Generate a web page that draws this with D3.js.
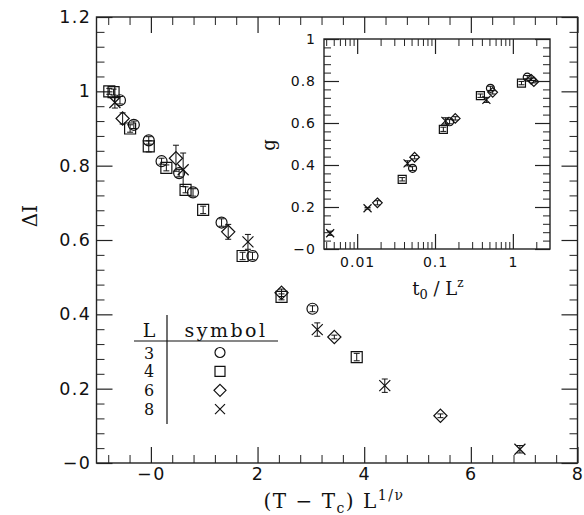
<!DOCTYPE html>
<html>
<head>
<meta charset="utf-8">
<script src="https://cdn.jsdelivr.net/npm/d3@7/dist/d3.min.js"></script>
<style>
  body { margin: 0; background: #fff; }
  text { fill: #111; }
</style>
</head>
<body>
<svg id="chart" width="584" height="515"></svg>
<script>
// lattice sizes and the symbol used for each
const sizes = [3, 4, 6, 8];
const shapes = ["circle", "square", "diamond", "cross"];

// main panel: [ (T - Tc) L^(1/nu), Delta I, error ]
const mainL3 = [[-0.58, 0.976, 0.010], [-0.32, 0.910, 0.010], [-0.04, 0.868, 0.010], [0.20, 0.812, 0.008],
  [0.53, 0.780, 0.010], [0.79, 0.728, 0.010], [1.325, 0.647, 0.010], [1.905, 0.557, 0.010], [3.03, 0.415, 0.008]];
const mainL4 = [[-0.78, 1.000, 0.008], [-0.70, 0.998, 0.008], [-0.39, 0.900, 0.010], [-0.04, 0.852, 0.015],
  [0.29, 0.794, 0.008], [0.65, 0.735, 0.008], [0.98, 0.681, 0.010], [1.72, 0.557, 0.010], [2.45, 0.447, 0.008], [3.86, 0.285, 0.010]];
const mainL6 = [[-0.53, 0.927, 0.015], [0.47, 0.820, 0.035], [1.45, 0.622, 0.020], [2.45, 0.458, 0.010],
  [3.44, 0.339, 0.005], [5.43, 0.127, 0.005]];
const mainL8 = [[-0.675, 0.970, 0.015], [0.605, 0.789, 0.045], [1.82, 0.595, 0.020], [3.12, 0.359, 0.018],
  [4.386, 0.208, 0.018], [6.92, 0.037, 0.010]];

// inset: [ t0 / L^z, g, error ]
const insetL3 = [[0.0515, 0.384, 0.010], [0.154, 0.606, 0.010], [0.515, 0.765, 0.010], [1.53, 0.818, 0.008]];
const insetL4 = [[0.0379, 0.332, 0.008], [0.128, 0.570, 0.010], [0.383, 0.730, 0.008], [1.29, 0.790, 0.008]];
const insetL6 = [[0.0182, 0.220, 0.010], [0.0547, 0.437, 0.008], [0.182, 0.622, 0.008], [0.551, 0.746, 0.008],
  [1.72, 0.808, 0.006], [1.86, 0.797, 0.006]];
const insetL8 = [[0.0045, 0.075, 0.010], [0.0136, 0.194, 0.004], [0.0444, 0.408, 0.012], [0.136, 0.610, 0.015],
  [0.457, 0.710, 0.012]];

// ticks
const mainXMajor = [0, 2, 4, 6, 8];
const mainXLabels = ["\u22120", "2", "4", "6", "8"];
const mainYMajor = [0, 0.2, 0.4, 0.6, 0.8, 1, 1.2];
const mainYLabels = ["\u22120", "0.2", "0.4", "0.6", "0.8", "1", "1.2"];
const insetXMajor = [0.01, 0.1, 1];
const insetXLabels = ["0.01", "0.1", "1"];
const insetYMajor = [0, 0.2, 0.4, 0.6, 0.8, 1];
const insetYLabels = ["\u22120", "0.2", "0.4", "0.6", "0.8", "1"];

const svg = d3.select("#chart");

function symbolPath(shape, r) {
  const p = d3.path();
  if (shape === "circle") {
    p.moveTo(r, 0); p.arc(0, 0, r, 0, 2 * Math.PI);
  } else if (shape === "square") {
    p.rect(-r, -r, 2 * r, 2 * r);
  } else if (shape === "diamond") {
    const d = r * 1.2;
    p.moveTo(0, -d); p.lineTo(d, 0); p.lineTo(0, d); p.lineTo(-d, 0); p.closePath();
  } else {
    p.moveTo(-r, -r); p.lineTo(r, r); p.moveTo(r, -r); p.lineTo(-r, r);
  }
  return p.toString();
}

// draw a boxed panel with inward ticks on all four sides
function drawFrame(g, x, y, opt) {
  const [x0, x1] = x.range();
  const [y0, y1] = y.range();
  const axes = [
    [d3.axisBottom(x), y0, "x"], [d3.axisTop(x), y1, "x"],
    [d3.axisLeft(y), x0, "y"], [d3.axisRight(y), x1, "y"]
  ];
  axes.forEach(([ax, pos, dim], i) => {
    const major = dim === "x" ? opt.xMajor : opt.yMajor;
    const minor = dim === "x" ? opt.xMinor : opt.yMinor;
    const labels = dim === "x" ? opt.xLabels : opt.yLabels;
    const tr = dim === "x" ? `translate(0,${pos})` : `translate(${pos},0)`;
    g.append("g").attr("transform", tr)
      .call(ax.tickValues(minor).tickSize(-opt.minorLen).tickFormat(""))
      .call(s => s.select(".domain").remove())
      .selectAll("line").attr("stroke", "#222").attr("stroke-width", 1);
    const showLabels = i === 0 || i === 2;
    const a = g.append("g").attr("transform", tr)
      .call(ax.tickValues(major).tickSize(-opt.majorLen).tickPadding(opt.pad)
        .tickFormat((d, k) => showLabels ? labels[k] : ""))
      .call(s => s.select(".domain").remove());
    a.selectAll("line").attr("stroke", "#222").attr("stroke-width", 1.2);
    a.selectAll("text")
      .attr("font-family", "DejaVu Sans, sans-serif")
      .attr("font-size", opt.fontSize)
      .attr("letter-spacing", opt.spacing)
      .attr("fill", "#111");
  });
  g.append("rect")
    .attr("x", x0).attr("y", y1)
    .attr("width", x1 - x0).attr("height", y0 - y1)
    .attr("fill", "none").attr("stroke", "#222").attr("stroke-width", 1.4);
}

function drawSeries(g, x, y, rows, shape, r) {
  rows.forEach(([vx, vy, err]) => {
    const px = x(vx), py = y(vy);
    const top = y(vy + err), bot = y(vy - err);
    g.append("path")
      .attr("d", `M${px},${top}V${bot}M${px - 3},${top}H${px + 3}M${px - 3},${bot}H${px + 3}`)
      .attr("stroke", "#111").attr("stroke-width", 1).attr("fill", "none");
    g.append("path")
      .attr("transform", `translate(${px},${py})`)
      .attr("d", symbolPath(shape, r))
      .attr("fill", "none").attr("stroke", "#111").attr("stroke-width", 1.2);
  });
}

// ---------- main panel ----------
const x = d3.scaleLinear().domain([-1.02, 8]).range([96.5, 577.5]);
const y = d3.scaleLinear().domain([0, 1.2]).range([463, 17]);

const main = svg.append("g");
drawFrame(main, x, y, {
  xMajor: mainXMajor, xLabels: mainXLabels,
  xMinor: d3.range(-0.8, 8, 0.4).filter(v => Math.abs(v / 2 - Math.round(v / 2)) > 0.01),
  yMajor: mainYMajor, yLabels: mainYLabels,
  yMinor: d3.range(0.04, 1.2, 0.04).filter(v => Math.abs(v / 0.2 - Math.round(v / 0.2)) > 0.01),
  majorLen: 16, minorLen: 8, pad: 5, fontSize: 17.5, spacing: 1.5
});

[mainL3, mainL4, mainL6, mainL8].forEach((rows, i) => drawSeries(main, x, y, rows, shapes[i], 5.5));

// ---------- inset ----------
const xi = d3.scaleLog().domain([0.00375, 3]).range([324, 550]);
const yi = d3.scaleLinear().domain([0, 1]).range([249, 39]);

const insetMinor = [];
[0.001, 0.01, 0.1, 1].forEach(dec => d3.range(2, 10).forEach(m => {
  const v = dec * m;
  if (v > 0.00375 && v < 3) insetMinor.push(v);
}));

const inset = svg.append("g");
drawFrame(inset, xi, yi, {
  xMajor: insetXMajor, xLabels: insetXLabels, xMinor: insetMinor,
  yMajor: insetYMajor, yLabels: insetYLabels,
  yMinor: d3.range(0.04, 1, 0.04).filter(v => Math.abs(v / 0.2 - Math.round(v / 0.2)) > 0.01),
  majorLen: 15, minorLen: 7, pad: 8, fontSize: 14, spacing: 1
});

[insetL3, insetL4, insetL6, insetL8].forEach((rows, i) => drawSeries(inset, xi, yi, rows, shapes[i], 4));

// ---------- axis titles ----------
const serif = "DejaVu Serif, serif";
svg.append("text")
  .attr("transform", "translate(37,216) rotate(-90)")
  .attr("text-anchor", "middle").attr("font-family", serif).attr("font-size", 20)
  .text("\u0394I");

const xt = svg.append("text")
  .attr("x", 334).attr("y", 508)
  .attr("text-anchor", "middle").attr("font-family", serif).attr("font-size", 20)
  .attr("letter-spacing", 1.5);
xt.append("tspan").text("(T \u2212 T");
xt.append("tspan").attr("font-size", 14).attr("dy", 5).text("c");
xt.append("tspan").attr("dy", -5).text(") L");
xt.append("tspan").attr("font-size", 14).attr("dy", -8).text("1/\u03bd");

svg.append("text")
  .attr("transform", "translate(270,145) rotate(-90)")
  .attr("text-anchor", "middle").attr("dominant-baseline", "middle")
  .attr("font-family", serif).attr("font-size", 18)
  .text("g");

const it = svg.append("text")
  .attr("x", 438).attr("y", 295)
  .attr("text-anchor", "middle").attr("font-family", serif).attr("font-size", 18);
it.append("tspan").text("t");
it.append("tspan").attr("font-size", 13).attr("dy", 4).text("0");
it.append("tspan").attr("dy", -4).text(" / L");
it.append("tspan").attr("font-size", 12).attr("dy", -8).text("z");

// ---------- legend table ----------
const leg = svg.append("g").attr("font-family", serif).attr("font-size", 19);
leg.append("text").attr("x", 149).attr("y", 337).attr("text-anchor", "middle").text("L");
leg.append("text").attr("x", 226).attr("y", 337).attr("text-anchor", "middle")
  .attr("letter-spacing", 2.5).text("symbol");
leg.append("line").attr("x1", 134).attr("x2", 278).attr("y1", 341).attr("y2", 341)
  .attr("stroke", "#111").attr("stroke-width", 1.2);
leg.append("line").attr("x1", 167).attr("x2", 167).attr("y1", 315).attr("y2", 424)
  .attr("stroke", "#111").attr("stroke-width", 1.2);
sizes.forEach((s, i) => {
  const cy = 352.5 + i * 18.9;
  leg.append("text").attr("x", 149).attr("y", cy + 6).attr("text-anchor", "middle")
    .attr("font-size", 16).text(s);
  leg.append("path").attr("transform", `translate(220,${cy})`)
    .attr("d", symbolPath(shapes[i], 5))
    .attr("fill", "none").attr("stroke", "#111").attr("stroke-width", 1.2);
});
</script>
</body>
</html>
